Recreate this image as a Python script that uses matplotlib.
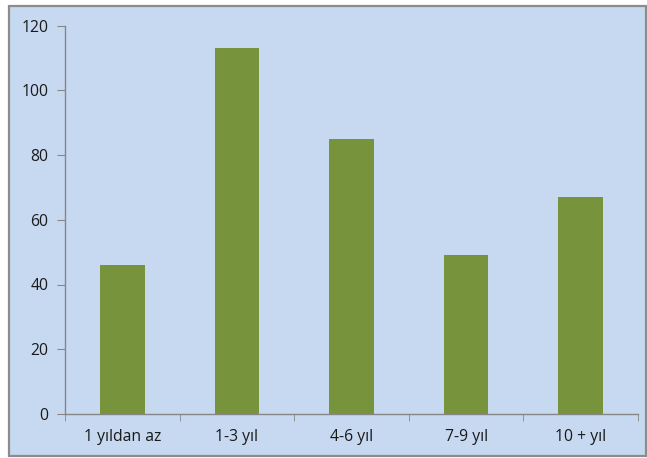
import matplotlib
matplotlib.use("Agg")
import matplotlib.pyplot as plt
from matplotlib.patches import Rectangle

categories = ["1 yıldan az", "1-3 yıl", "4-6 yıl", "7-9 yıl", "10 + yıl"]
values = [46, 113, 85, 49, 67]
y_ticks = [0, 20, 40, 60, 80, 100, 120]

W, H = 647, 458
fig = plt.figure(figsize=(W / 100, H / 100), dpi=100)
fig.patch.set_facecolor("white")

# chart area frame
fig.patches.append(Rectangle((9 / W, 1 - 456 / H), (646 - 9) / W, (456 - 6) / H,
                             transform=fig.transFigure, facecolor="#C6D9F1",
                             edgecolor="#8C8C8C", linewidth=1.6, zorder=-10))

ax = fig.add_axes([65 / W, 1 - 414 / H, (638 - 65) / W, (414 - 25.5) / H])
ax.set_facecolor("none")

x = list(range(len(categories)))
ax.bar(x, values, width=0.39, color="#77933C", zorder=2)

ax.set_xlim(-0.5, len(categories) - 0.5)
ax.set_ylim(0, 120)
ax.set_yticks(y_ticks)
ax.set_xticks(x)
ax.set_xticklabels(categories)
ax.set_xticks([i - 0.5 for i in range(len(categories) + 1)], minor=True)

for s in ["top", "right"]:
    ax.spines[s].set_visible(False)
for s in ["left", "bottom"]:
    ax.spines[s].set_color("#868686")
    ax.spines[s].set_linewidth(1.0)

ax.tick_params(axis="x", which="major", length=0, pad=11)
ax.tick_params(axis="x", which="minor", length=5, color="#868686", direction="out")
ax.tick_params(axis="y", length=6, color="#868686", pad=6)
for lbl in ax.get_xticklabels() + ax.get_yticklabels():
    lbl.set_fontfamily("Open Sans")
    lbl.set_fontsize(11.3)
    lbl.set_color("#1a1a1a")

fig.savefig("out.png", dpi=100)
